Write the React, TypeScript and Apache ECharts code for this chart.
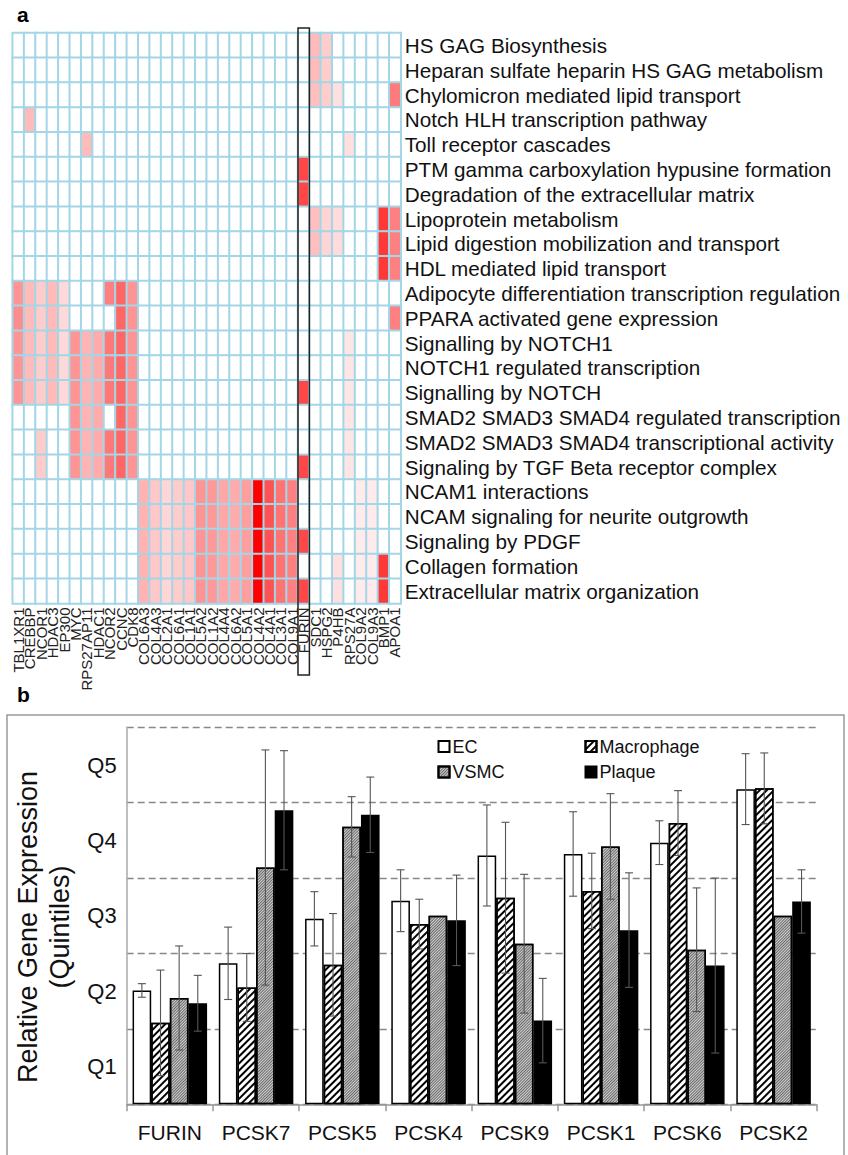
import React, { useEffect, useRef } from 'react';
import * as echarts from 'echarts';

const FONT = '"Liberation Sans", Arial, Helvetica, sans-serif';

// ---------- Panel a : heatmap ----------
const geneLabels = [
  'TBL1XR1', 'CREBBP', 'NCOR1', 'HDAC3', 'EP300', 'MYC', 'RPS27AP11', 'HDAC1', 'NCOR2', 'CCNC', 'CDK8',
  'COL6A3', 'COL4A3', 'COL2A1', 'COL6A1', 'COL1A1', 'COL5A2', 'COL1A2', 'COL4A4', 'COL6A2', 'COL5A1',
  'COL4A2', 'COL4A1', 'COL3A1', 'COL9A1',
  'FURIN',
  'SDC1', 'HSPG2', 'P4HB', 'RPS27A', 'COL9A2', 'COL9A3', 'BMP1', 'APOA1',
];

const pathwayLabels = [
  'HS GAG Biosynthesis',
  'Heparan sulfate heparin HS GAG metabolism',
  'Chylomicron mediated lipid transport',
  'Notch HLH transcription pathway',
  'Toll receptor cascades',
  'PTM gamma carboxylation hypusine formation',
  'Degradation of the extracellular matrix',
  'Lipoprotein metabolism',
  'Lipid digestion mobilization and transport',
  'HDL mediated lipid transport',
  'Adipocyte differentiation transcription regulation',
  'PPARA activated gene expression',
  'Signalling by NOTCH1',
  'NOTCH1 regulated transcription',
  'Signalling by NOTCH',
  'SMAD2 SMAD3 SMAD4 regulated transcription',
  'SMAD2 SMAD3 SMAD4 transcriptional activity',
  'Signaling by TGF Beta receptor complex',
  'NCAM1 interactions',
  'NCAM signaling for neurite outgrowth',
  'Signaling by PDGF',
  'Collagen formation',
  'Extracellular matrix organization',
];

// enrichment intensity (0 = none, 1 = strongest), one row per pathway, one column per gene
const heatRows: number[][] = [
  [0, 0, 0, 0, 0, 0, 0, 0, 0, 0, 0, 0, 0, 0, 0, 0, 0, 0, 0, 0, 0, 0, 0, 0, 0, 0, 0.27, 0.2, 0, 0, 0, 0, 0, 0],
  [0, 0, 0, 0, 0, 0, 0, 0, 0, 0, 0, 0, 0, 0, 0, 0, 0, 0, 0, 0, 0, 0, 0, 0, 0, 0, 0.27, 0.2, 0, 0, 0, 0, 0, 0],
  [0, 0, 0, 0, 0, 0, 0, 0, 0, 0, 0, 0, 0, 0, 0, 0, 0, 0, 0, 0, 0, 0, 0, 0, 0, 0, 0.25, 0.2, 0.12, 0, 0, 0, 0, 0.52],
  [0, 0.27, 0, 0, 0, 0, 0, 0, 0, 0, 0, 0, 0, 0, 0, 0, 0, 0, 0, 0, 0, 0, 0, 0, 0, 0, 0, 0, 0, 0, 0, 0, 0, 0],
  [0, 0, 0, 0, 0, 0, 0.27, 0, 0, 0, 0, 0, 0, 0, 0, 0, 0, 0, 0, 0, 0, 0, 0, 0, 0, 0, 0, 0, 0, 0.12, 0, 0, 0, 0],
  [0, 0, 0, 0, 0, 0, 0, 0, 0, 0, 0, 0, 0, 0, 0, 0, 0, 0, 0, 0, 0, 0, 0, 0, 0, 0.72, 0, 0, 0, 0, 0, 0, 0, 0],
  [0, 0, 0, 0, 0, 0, 0, 0, 0, 0, 0, 0, 0, 0, 0, 0, 0, 0, 0, 0, 0, 0, 0, 0, 0, 0.72, 0, 0, 0, 0, 0, 0, 0, 0],
  [0, 0, 0, 0, 0, 0, 0, 0, 0, 0, 0, 0, 0, 0, 0, 0, 0, 0, 0, 0, 0, 0, 0, 0, 0, 0, 0.25, 0.17, 0.14, 0, 0, 0, 0.78, 0.5],
  [0, 0, 0, 0, 0, 0, 0, 0, 0, 0, 0, 0, 0, 0, 0, 0, 0, 0, 0, 0, 0, 0, 0, 0, 0, 0, 0.25, 0.17, 0.14, 0, 0, 0, 0.78, 0.5],
  [0, 0, 0, 0, 0, 0, 0, 0, 0, 0, 0, 0, 0, 0, 0, 0, 0, 0, 0, 0, 0, 0, 0, 0, 0, 0, 0, 0, 0, 0, 0, 0, 0.78, 0.5],
  [0.42, 0.27, 0.2, 0.27, 0.15, 0, 0, 0, 0.5, 0.6, 0.42, 0, 0, 0, 0, 0, 0, 0, 0, 0, 0, 0, 0, 0, 0, 0, 0, 0, 0, 0, 0, 0, 0, 0],
  [0.45, 0.27, 0.2, 0.27, 0.15, 0, 0, 0, 0, 0.6, 0.42, 0, 0, 0, 0, 0, 0, 0, 0, 0, 0, 0, 0, 0, 0, 0, 0, 0, 0, 0, 0, 0, 0, 0.5],
  [0.42, 0.27, 0.2, 0.27, 0.15, 0.42, 0.3, 0.33, 0.53, 0.6, 0.42, 0, 0, 0, 0, 0, 0, 0, 0, 0, 0, 0, 0, 0, 0, 0, 0, 0, 0, 0.1, 0, 0, 0, 0],
  [0.42, 0.27, 0.2, 0.27, 0.15, 0.42, 0.3, 0.33, 0.53, 0.6, 0.42, 0, 0, 0, 0, 0, 0, 0, 0, 0, 0, 0, 0, 0, 0, 0, 0, 0, 0, 0.1, 0, 0, 0, 0],
  [0.42, 0.27, 0.2, 0.27, 0.15, 0.42, 0.3, 0.33, 0.53, 0.6, 0.42, 0, 0, 0, 0, 0, 0, 0, 0, 0, 0, 0, 0, 0, 0, 0.72, 0, 0, 0, 0.1, 0, 0, 0, 0],
  [0, 0, 0, 0, 0, 0.42, 0.3, 0.33, 0, 0.6, 0.42, 0, 0, 0, 0, 0, 0, 0, 0, 0, 0, 0, 0, 0, 0, 0, 0, 0, 0, 0.1, 0, 0, 0, 0],
  [0, 0, 0.2, 0, 0, 0.42, 0.3, 0.33, 0.53, 0.6, 0.42, 0, 0, 0, 0, 0, 0, 0, 0, 0, 0, 0, 0, 0, 0, 0, 0, 0, 0, 0.1, 0, 0, 0, 0],
  [0, 0, 0.2, 0, 0, 0.42, 0.3, 0.33, 0.53, 0.6, 0.42, 0, 0, 0, 0, 0, 0, 0, 0, 0, 0, 0, 0, 0, 0, 0.72, 0, 0, 0, 0.1, 0, 0, 0, 0],
  [0, 0, 0, 0, 0, 0, 0, 0, 0, 0, 0, 0.3, 0.22, 0.16, 0.2, 0.22, 0.42, 0.4, 0.35, 0.33, 0.38, 1, 0.68, 0.55, 0.5, 0, 0, 0, 0, 0, 0.08, 0.08, 0, 0],
  [0, 0, 0, 0, 0, 0, 0, 0, 0, 0, 0, 0.3, 0.22, 0.16, 0.2, 0.22, 0.42, 0.4, 0.35, 0.33, 0.38, 1, 0.68, 0.55, 0.5, 0, 0, 0, 0, 0, 0.08, 0.08, 0, 0],
  [0, 0, 0, 0, 0, 0, 0, 0, 0, 0, 0, 0.3, 0.22, 0.16, 0.2, 0.22, 0.42, 0.4, 0.35, 0.33, 0.38, 1, 0.68, 0.55, 0.5, 0.72, 0, 0, 0, 0, 0.08, 0.08, 0, 0],
  [0, 0, 0, 0, 0, 0, 0, 0, 0, 0, 0, 0.3, 0.22, 0.16, 0.2, 0.22, 0.42, 0.4, 0.35, 0.33, 0.38, 1, 0.68, 0.55, 0.5, 0, 0, 0, 0.12, 0, 0.08, 0.08, 0.78, 0],
  [0, 0, 0, 0, 0, 0, 0, 0, 0, 0, 0, 0.3, 0.22, 0.16, 0.2, 0.22, 0.42, 0.4, 0.35, 0.33, 0.38, 1, 0.68, 0.55, 0.5, 0.72, 0, 0, 0.12, 0, 0.08, 0.08, 0.78, 0],
];

// ---------- Panel b : grouped bars ----------
const barCategories = ['FURIN', 'PCSK7', 'PCSK5', 'PCSK4', 'PCSK9', 'PCSK1', 'PCSK6', 'PCSK2'];
const quintileLabels = ['Q1', 'Q2', 'Q3', 'Q4', 'Q5'];
const ecValues = [1.51, 1.87, 2.46, 2.7, 3.3, 3.32, 3.47, 4.18];
const ecErrors = [0.09, 0.48, 0.36, 0.41, 0.67, 0.56, 0.29, 0.47];
const macrophageValues = [1.08, 1.55, 1.85, 2.39, 2.74, 2.83, 3.73, 4.19];
const macrophageErrors = [0.7, 0.45, 0.68, 0.33, 1.0, 0.5, 0.43, 0.47];
const vsmcValues = [1.41, 3.14, 3.68, 2.5, 2.13, 3.42, 2.05, 2.5];
const vsmcErrors = [0.69, 1.56, 0.4, 0, 0.92, 0.7, 0.82, 0];
const plaqueValues = [1.34, 3.9, 3.84, 2.44, 1.11, 2.31, 1.84, 2.69];
const plaqueErrors = [0.37, 0.79, 0.5, 0.6, 0.56, 0.76, 1.16, 0.42];

const BAR_RATIO = 0.216;

export default function App() {
  const ref = useRef<HTMLDivElement>(null);

  useEffect(() => {
    if (!ref.current) return;
    const chart = echarts.init(ref.current, null, { renderer: 'svg' });

    const heatData: number[][] = [];
    heatRows.forEach((row, y) => row.forEach((v, x) => heatData.push([x, y, v])));

    const groups = [
      { name: 'EC', values: ecValues, errors: ecErrors, color: '#ffffff', decal: null as any },
      {
        name: 'Macrophage', values: macrophageValues, errors: macrophageErrors, color: '#ffffff',
        decal: { symbol: 'rect', symbolSize: 1, color: '#000', dashArrayX: [1, 0], dashArrayY: [2, 3], rotation: -Math.PI / 4 },
      },
      {
        name: 'VSMC', values: vsmcValues, errors: vsmcErrors, color: '#d0d0d0',
        decal: { symbol: 'rect', symbolSize: 1, color: 'rgba(70,70,70,0.75)', dashArrayX: [1, 0], dashArrayY: [1, 1], rotation: -Math.PI / 4 },
      },
      { name: 'Plaque', values: plaqueValues, errors: plaqueErrors, color: '#000000', decal: null as any },
    ];

    const barSeries = groups.map((g) => ({
      name: g.name,
      type: 'bar',
      xAxisIndex: 1,
      yAxisIndex: 1,
      barWidth: (BAR_RATIO * 100).toFixed(1) + '%',
      barGap: '0%',
      data: g.values,
      itemStyle: g.decal
        ? { color: g.color, borderColor: '#000', borderWidth: 1.5, decal: g.decal }
        : { color: g.color, borderColor: '#000', borderWidth: 1.5 },
      emphasis: { disabled: true },
      z: 2,
    }));

    const errSeries = groups.map((g, gi) => ({
      name: g.name + ' error',
      type: 'custom',
      xAxisIndex: 1,
      yAxisIndex: 1,
      z: 5,
      silent: true,
      data: g.values.map((v, i) => [i, v, g.errors[i]]),
      renderItem: (params: any, api: any) => {
        const cat = api.value(0);
        const val = api.value(1);
        const err = api.value(2);
        if (!err) return null;
        const band = api.size([1, 0])[0];
        const bw = band * BAR_RATIO;
        const c = api.coord([cat, val]);
        const x = c[0] + (gi - 1.5) * bw;
        const top = api.coord([cat, val + err])[1];
        const bot = api.coord([cat, Math.max(0, val - err)])[1];
        const cap = 4;
        const style = { stroke: '#555', lineWidth: 1.1 };
        return {
          type: 'group',
          children: [
            { type: 'line', shape: { x1: x, y1: top, x2: x, y2: bot }, style },
            { type: 'line', shape: { x1: x - cap, y1: top, x2: x + cap, y2: top }, style },
            { type: 'line', shape: { x1: x - cap, y1: bot, x2: x + cap, y2: bot }, style },
          ],
        };
      },
    }));

    const legendPos = [
      { name: 'EC', left: 437.5, top: 737.5 },
      { name: 'Macrophage', left: 584.5, top: 737.5 },
      { name: 'VSMC', left: 437.5, top: 763 },
      { name: 'Plaque', left: 584.5, top: 763 },
    ];

    const option: any = {
      animation: false,
      textStyle: { fontFamily: FONT },
      visualMap: {
        type: 'continuous',
        show: false,
        min: 0,
        max: 1,
        dimension: 2,
        seriesIndex: 0,
        inRange: { color: ['#ffffff', '#ff0000'] },
      },
      legend: legendPos.map((l) => ({
        data: [l.name],
        left: l.left,
        top: l.top,
        padding: 0,
        icon: 'rect',
        itemWidth: 11,
        itemHeight: 11,
        itemGap: 0,
        selectedMode: false,
        textStyle: { fontSize: 18, color: '#111', fontFamily: FONT, padding: [0, 0, 0, -2] },
      })),
      grid: [
        { left: 12.7, top: 33, width: 388, height: 570.5 },
        { left: 126.7, top: 727.3, width: 690, height: 377 },
      ],
      xAxis: [
        {
          type: 'category',
          gridIndex: 0,
          data: geneLabels,
          position: 'bottom',
          axisLine: { show: false },
          axisTick: { show: false },
          splitLine: { show: false },
          axisLabel: { rotate: 90, interval: 0, fontSize: 15, margin: 4, color: '#222', fontFamily: FONT },
        },
        {
          type: 'category',
          gridIndex: 1,
          data: barCategories,
          axisLine: { show: true, lineStyle: { color: '#999', width: 1.5 } },
          axisTick: { show: true, length: 7, lineStyle: { color: '#999', width: 1.5 } },
          axisLabel: { interval: 0, fontSize: 21, margin: 18, color: '#111', fontFamily: FONT },
          splitLine: { show: false },
        },
      ],
      yAxis: [
        {
          type: 'category',
          gridIndex: 0,
          data: pathwayLabels,
          inverse: true,
          position: 'right',
          axisLine: { show: false },
          axisTick: { show: false },
          splitLine: { show: false },
          axisLabel: { interval: 0, fontSize: 20.7, margin: 4, color: '#111', fontFamily: FONT },
        },
        {
          type: 'value',
          gridIndex: 1,
          min: 0,
          max: 5,
          interval: 0.5,
          axisLine: { show: true, lineStyle: { color: '#aaa', width: 1.5 } },
          axisTick: { show: false },
          splitLine: { show: false },
          axisLabel: {
            fontSize: 22,
            margin: 10,
            color: '#111',
            fontFamily: FONT,
            formatter: (v: number) => {
              const k = Math.round(v * 2);
              return k % 2 === 1 ? quintileLabels[(k - 1) / 2] : '';
            },
          },
        },
        {
          type: 'value',
          gridIndex: 1,
          min: 0,
          max: 5,
          interval: 1,
          axisLine: { show: false },
          axisTick: { show: false },
          axisLabel: { show: false },
          splitLine: { show: true, lineStyle: { color: '#888', width: 1.3, type: [7, 4] } },
        },
      ],
      series: [
        {
          name: 'enrichment',
          type: 'heatmap',
          xAxisIndex: 0,
          yAxisIndex: 0,
          data: heatData,
          itemStyle: { borderColor: '#a3d6e6', borderWidth: 2 },
          emphasis: { disabled: true },
          silent: true,
        },
        ...barSeries,
        ...errSeries,
      ],
    };

    chart.setOption(option);

    const furinX = chart.convertToPixel({ xAxisIndex: 0 } as any, 'FURIN') as unknown as number;
    const cellW = 388 / geneLabels.length;

    chart.setOption({
      graphic: [
        {
          type: 'text',
          left: 17,
          top: 4,
          style: { text: 'a', fontSize: 21, fontWeight: 'bold', fill: '#000', fontFamily: FONT },
        },
        {
          type: 'text',
          left: 17,
          top: 684,
          style: { text: 'b', fontSize: 21, fontWeight: 'bold', fill: '#000', fontFamily: FONT },
        },
        {
          type: 'rect',
          shape: { x: furinX - cellW / 2, y: 28, width: cellW, height: 647 },
          style: { fill: 'none', stroke: '#222', lineWidth: 1.5 },
          z: 100,
        },
        {
          type: 'rect',
          shape: { x: 7, y: 715, width: 837, height: 470 },
          style: { fill: 'none', stroke: '#999', lineWidth: 1.5 },
          z: 100,
        },
        {
          type: 'text',
          x: 44,
          y: 927,
          rotation: Math.PI / 2,
          style: {
            text: 'Relative Gene Expression\n(Quintiles)',
            fontSize: 27,
            lineHeight: 32,
            fill: '#111',
            fontFamily: FONT,
            align: 'center',
            verticalAlign: 'middle',
          },
          z: 100,
        },
      ],
    });

    return () => chart.dispose();
  }, []);

  return (
    <div
      ref={ref}
      style={{ position: 'absolute', left: 0, top: 0, width: 848, height: 1155, background: '#fff' }}
    />
  );
}
